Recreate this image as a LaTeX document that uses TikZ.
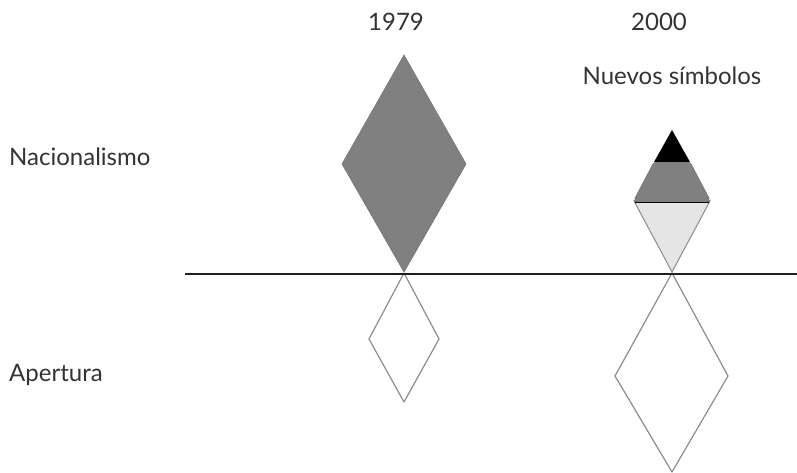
\documentclass[tikz,border=0pt]{standalone}
\usepackage{fontspec}
\setmainfont{Lato}
\begin{document}
\begin{tikzpicture}[x=1pt,y=-1pt,
  lbl/.style={font=\fontsize{24}{26}\selectfont, text=black!80, inner sep=0pt},
  darkfill/.style={fill=black!50, draw=black!55, line width=0.6pt},
  outl/.style={draw=black!45, line width=1.2pt, line join=round}]
\useasboundingbox (0,0) rectangle (797,473);
% labels
\node[lbl, anchor=base] (y1979) at (396,31) {1979};
\node[lbl, anchor=base] (y2000) at (659,31) {2000};
\node[lbl, anchor=base] (nuevos) at (672,85) {Nuevos símbolos};
\node[lbl, anchor=base west] (nac) at (9,166) {Nacionalismo};
\node[lbl, anchor=base west] (ape) at (9,381) {Apertura};
% 1979 nationalism diamond
\draw[darkfill] (404,55) -- (466,164) -- (404,272) -- (342,164) -- cycle;
% 1979 apertura diamond
\draw[outl] (404,273) -- (439,339) -- (404,402) -- (369,339) -- cycle;
% 2000 composite diamond
\draw[fill=black!10, draw=black!45, line width=1pt] (634,201) -- (710,201) -- (672,272) -- cycle;
\draw[darkfill, rounded corners=2pt] (654,162) -- (690,162) -- (710,200) -- (708,202) -- (636,202) -- (634,200) -- cycle;
\fill[black] (672,130) -- (690,162) -- (654,162) -- cycle;
\draw[black, line width=1pt] (635,202) -- (709,202);
% 2000 apertura diamond
\draw[outl] (672,273) -- (728,376) -- (672,472) -- (615,376) -- cycle;
% axis line
\draw[black!88, line width=2.4pt] (185,274) -- (797,274);
\end{tikzpicture}
\end{document}
